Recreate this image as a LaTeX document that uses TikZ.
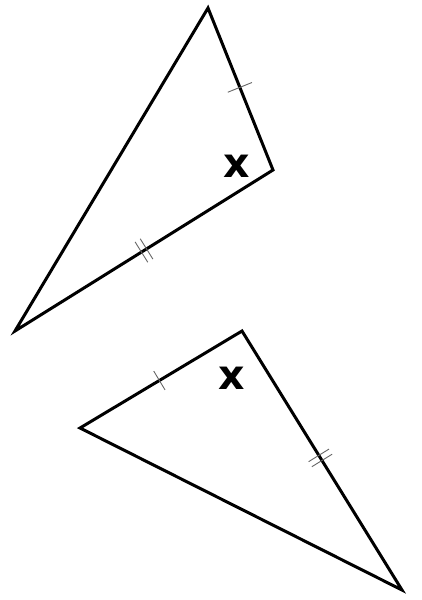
\documentclass[tikz,border=0pt]{standalone}
\usepackage{fontspec}
\newfontfamily\xfont{DejaVu Sans}
\usetikzlibrary{calc}
\begin{document}
\begin{tikzpicture}[x=1pt,y=-1pt,
  side/.style={line width=3pt,black},
  tick/.style={line width=0.9pt,black!60},
  lbl/.style={inner sep=0pt,font=\xfont\bfseries\fontsize{41}{41}\selectfont}]
\useasboundingbox (0,0) rectangle (422,600);
% triangle 1
\coordinate (A) at (208,8);
\coordinate (B) at (273,170);
\coordinate (C) at (15,331);
% triangle 2
\coordinate (D) at (80,428);
\coordinate (E) at (242,331);
\coordinate (F) at (402,590);
\draw[side] (A) -- (B) -- (C) -- cycle;
\draw[side] (D) -- (E) -- (F) -- cycle;
% single ticks
\coordinate (m1) at ($(A)!0.49!(B)$);
\draw[tick] ($(m1)!13pt!90:(B)$) -- ($(m1)!13pt!-90:(B)$);
\coordinate (m3) at ($(D)!0.49!(E)$);
\draw[tick] ($(m3)!11pt!90:(E)$) -- ($(m3)!11pt!-90:(E)$);
% double ticks
\coordinate (m2) at ($(B)!0.5!(C)$);
\coordinate (m2a) at ($(m2)!3pt!(C)$);
\coordinate (m2b) at ($(m2)!-3pt!(C)$);
\draw[tick] ($(m2a)!12pt!90:(C)$) -- ($(m2a)!12pt!-90:(C)$);
\draw[tick] ($(m2b)!12pt!90:(C)$) -- ($(m2b)!12pt!-90:(C)$);
\coordinate (m4) at ($(E)!0.49!(F)$);
\coordinate (m4a) at ($(m4)!3pt!(F)$);
\coordinate (m4b) at ($(m4)!-3pt!(F)$);
\draw[tick] ($(m4a)!12pt!90:(F)$) -- ($(m4a)!12pt!-90:(F)$);
\draw[tick] ($(m4b)!12pt!90:(F)$) -- ($(m4b)!12pt!-90:(F)$);
% labels
\node[lbl] (x1) at (237,166) {x};
\node[lbl] (x2) at (232,378) {x};
\end{tikzpicture}
\end{document}
